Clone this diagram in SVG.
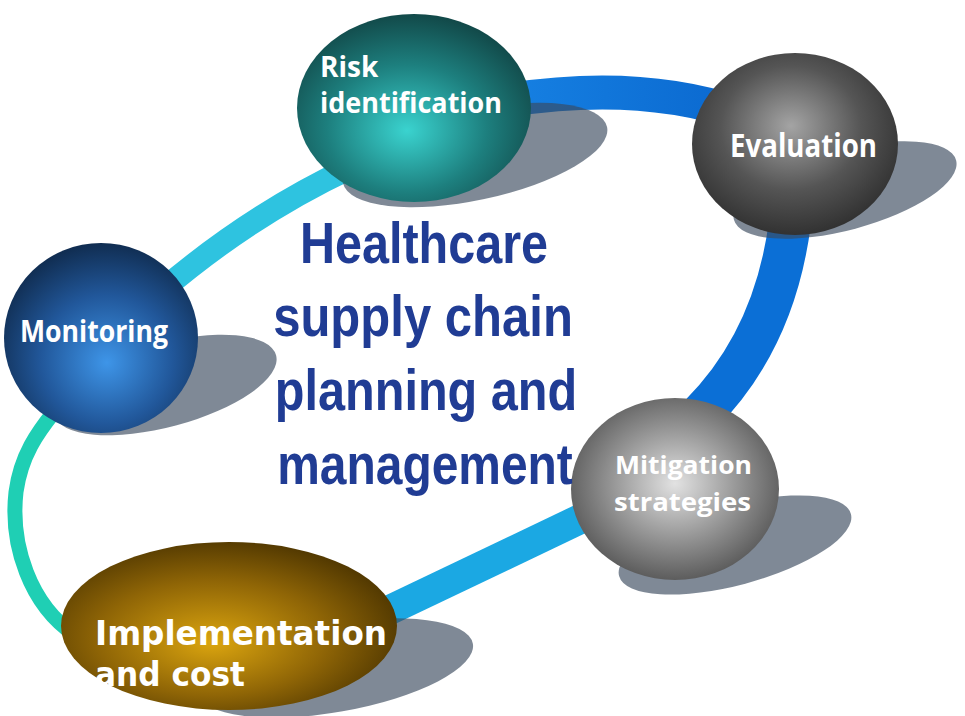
<svg xmlns="http://www.w3.org/2000/svg" width="965" height="716" viewBox="0 0 965 716">
<style>
.band{fill:none;stroke-linecap:butt}
.shadow{fill:#3a4a5e;fill-opacity:0.65}
.lbl{font-family:"Open Sans","Noto Sans","DejaVu Sans",sans-serif;font-weight:700;fill:#ffffff}
.impl{font-family:"DejaVu Sans","Verdana",sans-serif;font-weight:700;fill:#ffffff}
.title{font-family:"Liberation Sans",Arial,sans-serif;font-weight:700;fill:#203c94;font-size:58px}
</style>
<defs>
<radialGradient id="gRisk" cx="0.47" cy="0.6" r="0.62" fx="0.47" fy="0.62">
<stop offset="0" stop-color="#3ad3cf"/><stop offset="0.55" stop-color="#1d7f7e"/><stop offset="1" stop-color="#114545"/>
</radialGradient>
<radialGradient id="gEval" cx="0.48" cy="0.42" r="0.62" fx="0.48" fy="0.4">
<stop offset="0" stop-color="#a4a4a4"/><stop offset="0.55" stop-color="#555555"/><stop offset="1" stop-color="#2c2c2c"/>
</radialGradient>
<radialGradient id="gMon" cx="0.53" cy="0.6" r="0.62" fx="0.53" fy="0.63">
<stop offset="0" stop-color="#3e95e8"/><stop offset="0.55" stop-color="#21579a"/><stop offset="1" stop-color="#0f2a4c"/>
</radialGradient>
<radialGradient id="gMit" cx="0.5" cy="0.47" r="0.62" fx="0.5" fy="0.47">
<stop offset="0" stop-color="#e2e2e2"/><stop offset="0.55" stop-color="#8c8c8c"/><stop offset="1" stop-color="#464646"/>
</radialGradient>
<radialGradient id="gImp" cx="0.45" cy="0.55" r="0.62" fx="0.45" fy="0.6">
<stop offset="0" stop-color="#dba50f"/><stop offset="0.55" stop-color="#8f6506"/><stop offset="1" stop-color="#463000"/>
</radialGradient>
<linearGradient id="gBandA" x1="0" y1="0" x2="1" y2="0">
<stop offset="0" stop-color="#1680e2"/><stop offset="1" stop-color="#0a68cf"/>
</linearGradient>
</defs>

<g id="connectors">
<path class="band" d="M 510,100 Q 640,80 740,114" stroke="url(#gBandA)" stroke-width="34"/>
<path class="band" d="M 790,222 Q 775,340 700,415" stroke="#0b6fd6" stroke-width="42"/>
<path class="band" d="M 595,512 Q 490,562 375,617" stroke="#1ba8e3" stroke-width="30"/>
<path class="band" d="M 75,635 C 30,605 10,545 16,492 C 21,455 38,432 54,412" stroke="#1fcfb4" stroke-width="15"/>
<path class="band" d="M 160,292 Q 250,215 350,168" stroke="#2ec3e0" stroke-width="23"/>
</g>

<g id="node-risk">
<ellipse class="shadow" cx="475" cy="155" rx="135" ry="45" transform="rotate(-12 475 155)"/>
<ellipse cx="414" cy="108" rx="117" ry="94" fill="url(#gRisk)"/>
<text class="lbl" x="320" y="77" font-size="28">Risk</text>
<text class="lbl" x="320" y="113" font-size="28" textLength="182" lengthAdjust="spacingAndGlyphs">identification</text>
</g>

<g id="node-evaluation">
<ellipse class="shadow" cx="845" cy="190" rx="115" ry="40" transform="rotate(-15 845 190)"/>
<ellipse cx="795" cy="144" rx="103" ry="91" fill="url(#gEval)"/>
<text class="lbl" x="730" y="157" font-size="33" textLength="147" lengthAdjust="spacingAndGlyphs">Evaluation</text>
</g>

<g id="node-monitoring">
<ellipse class="shadow" cx="165" cy="385" rx="115" ry="42" transform="rotate(-15 165 385)"/>
<ellipse cx="101" cy="338" rx="97" ry="95" fill="url(#gMon)"/>
<text class="lbl" x="20" y="342" font-size="30" textLength="148" lengthAdjust="spacingAndGlyphs">Monitoring</text>
</g>

<g id="node-mitigation">
<ellipse class="shadow" cx="735" cy="545" rx="120" ry="40" transform="rotate(-15 735 545)"/>
<ellipse cx="675" cy="489" rx="104" ry="91" fill="url(#gMit)"/>
<text class="lbl" x="615" y="474" font-size="25" fill="#f4f4f4" textLength="137" lengthAdjust="spacingAndGlyphs">Mitigation</text>
<text class="lbl" x="614" y="511" font-size="25" fill="#f4f4f4" textLength="137" lengthAdjust="spacingAndGlyphs">strategies</text>
</g>

<g id="node-implementation">
<ellipse class="shadow" cx="335" cy="668" rx="140" ry="44" transform="rotate(-10 335 668)"/>
<ellipse cx="229" cy="626" rx="168" ry="84" fill="url(#gImp)"/>
<text class="impl" x="95" y="645" font-size="34" textLength="292" lengthAdjust="spacingAndGlyphs">Implementation</text>
<text class="impl" x="95" y="686" font-size="34" textLength="150" lengthAdjust="spacingAndGlyphs">and cost</text>
</g>

<g id="title">
<text class="title" transform="translate(424,263) scale(0.835,1)" x="0" y="0" text-anchor="middle" textLength="297" lengthAdjust="spacingAndGlyphs">Healthcare</text>
<text class="title" transform="translate(423,336) scale(0.835,1)" x="0" y="0" text-anchor="middle" textLength="359" lengthAdjust="spacingAndGlyphs">supply chain</text>
<text class="title" transform="translate(426,410) scale(0.835,1)" x="0" y="0" text-anchor="middle" textLength="362" lengthAdjust="spacingAndGlyphs">planning and</text>
<text class="title" transform="translate(425,484) scale(0.835,1)" x="0" y="0" text-anchor="middle" textLength="354" lengthAdjust="spacingAndGlyphs">management</text>
</g>
</svg>
